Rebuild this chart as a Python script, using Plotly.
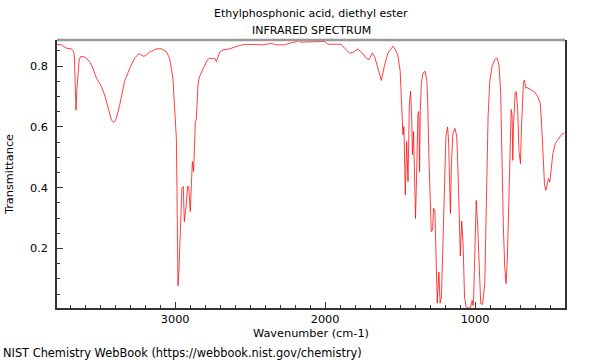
import plotly.graph_objects as go

# IR spectrum of ethylphosphonic acid, diethyl ester
wavenumber = [
    3788, 3759, 3725, 3692, 3677, 3672, 3665, 3661, 3656, 3648, 3640, 3630,
    3603, 3570, 3548, 3525, 3497, 3470, 3448, 3425, 3412, 3400, 3392, 3370,
    3337, 3303, 3270, 3243, 3225, 3208, 3190, 3170, 3125, 3092, 3059, 3037,
    3015, 3003, 2992, 2988, 2985, 2981, 2975, 2966, 2955, 2946, 2939, 2928,
    2917, 2910, 2899, 2892, 2885, 2877, 2870, 2865, 2859, 2848, 2837, 2815,
    2785, 2770, 2748, 2737, 2725, 2703, 2692, 2681, 2637, 2570, 2525, 2470,
    2415, 2359, 2325, 2270, 2225, 2181, 2175, 2165, 2103, 2037, 2003, 1981,
    1937, 1892, 1870, 1837, 1810, 1781, 1752, 1725, 1708, 1685, 1670, 1648,
    1625, 1603, 1581, 1559, 1548, 1537, 1515, 1499, 1492, 1485, 1481, 1474,
    1465, 1456, 1447, 1438, 1430, 1423, 1417, 1410, 1403, 1397, 1390, 1381,
    1375, 1370, 1365, 1359, 1348, 1332, 1321, 1315, 1308, 1301, 1292, 1283,
    1277, 1268, 1259, 1252, 1241, 1233, 1224, 1214, 1203, 1194, 1183, 1176,
    1170, 1164, 1158, 1148, 1134, 1122, 1114, 1106, 1098, 1089, 1080, 1070,
    1059, 1045, 1030, 1024, 1019, 1014, 1010, 1005, 1001, 992, 982, 973,
    962, 950, 940, 935, 924, 913, 902, 887, 869, 858, 851, 840,
    829, 820, 811, 802, 793, 784, 775, 766, 759, 753, 748, 744,
    740, 732, 725, 715, 707, 702, 697, 690, 682, 677, 670, 662,
    655, 648, 625, 603, 581, 565, 555, 545, 537, 528, 519, 510,
    501, 492, 481, 465, 443, 421, 403,
]
transmittance = [
    0.872, 0.870, 0.859, 0.857, 0.848, 0.830, 0.720, 0.655, 0.720, 0.783, 0.820, 0.832,
    0.830, 0.815, 0.793, 0.760, 0.738, 0.705, 0.662, 0.623, 0.615, 0.620, 0.629, 0.672,
    0.750, 0.793, 0.826, 0.841, 0.836, 0.832, 0.838, 0.846, 0.857, 0.857, 0.848, 0.826,
    0.760, 0.672, 0.563, 0.398, 0.233, 0.077, 0.124, 0.288, 0.398, 0.404, 0.288, 0.332,
    0.404, 0.404, 0.321, 0.409, 0.486, 0.453, 0.530, 0.618, 0.623, 0.738, 0.766, 0.788,
    0.821, 0.826, 0.824, 0.826, 0.815, 0.846, 0.850, 0.853, 0.857, 0.868, 0.872, 0.870,
    0.870, 0.875, 0.870, 0.870, 0.877, 0.881, 0.886, 0.879, 0.879, 0.880, 0.881, 0.872,
    0.872, 0.872, 0.859, 0.843, 0.846, 0.857, 0.843, 0.826, 0.821, 0.843, 0.832, 0.793,
    0.753, 0.804, 0.843, 0.857, 0.866, 0.859, 0.837, 0.783, 0.717, 0.607, 0.574, 0.601,
    0.376, 0.552, 0.420, 0.672, 0.717, 0.640, 0.508, 0.585, 0.464, 0.299, 0.431, 0.640,
    0.651, 0.453, 0.651, 0.738, 0.777, 0.783, 0.750, 0.672, 0.508, 0.365, 0.255, 0.261,
    0.332, 0.327, 0.172, 0.020, 0.122, 0.020, 0.040, 0.215, 0.450, 0.570, 0.600, 0.550,
    0.420, 0.315, 0.470, 0.578, 0.595, 0.570, 0.460, 0.300, 0.175, 0.290, 0.220, 0.040,
    0.007, 0.004, 0.005, 0.020, 0.029, 0.012, 0.018, 0.120, 0.227, 0.358, 0.271, 0.150,
    0.018, 0.016, 0.073, 0.084, 0.358, 0.633, 0.748, 0.798, 0.820, 0.826, 0.825, 0.803,
    0.710, 0.468, 0.271, 0.139, 0.084, 0.172, 0.358, 0.578, 0.657, 0.640, 0.490, 0.600,
    0.633, 0.715, 0.715, 0.650, 0.520, 0.479, 0.479, 0.600, 0.720, 0.748, 0.754, 0.727,
    0.730, 0.728, 0.722, 0.715, 0.699, 0.677, 0.600, 0.490, 0.413, 0.391, 0.413, 0.430,
    0.419, 0.457, 0.512, 0.545, 0.562, 0.576, 0.580,
]

title_line1 = "Ethylphosphonic acid, diethyl ester"
title_line2 = "INFRARED SPECTRUM"
x_title = "Wavenumber (cm-1)"
y_title = "Transmittance"
footer = "NIST Chemistry WebBook (https://webbook.nist.gov/chemistry)"
x_ticks = [3000, 2000, 1000]
y_ticks = [0.2, 0.4, 0.6, 0.8]

FONT = "DejaVu Sans"
FS = 11

fig = go.Figure()
fig.add_trace(go.Scatter(
    x=wavenumber, y=transmittance, mode="lines",
    line=dict(color="rgba(255,0,0,0.75)", width=1),
    hoverinfo="skip", showlegend=False,
))

fig.update_layout(
    width=600, height=360,
    margin=dict(l=57, r=35, t=40, b=52, autoexpand=False),
    paper_bgcolor="white", plot_bgcolor="white",
    font=dict(family=FONT, size=FS, color="black"),
    showlegend=False,
    xaxis=dict(
        range=[3788, 400], showgrid=False, zeroline=False, automargin=False,
        tickvals=x_ticks, ticktext=[str(v) for v in x_ticks],
        ticks="inside", ticklen=6, tickcolor="#333", tickwidth=1,
        minor=dict(dtick=100, tick0=0, ticks="inside", ticklen=3, tickcolor="#333", showgrid=False),
        showline=True, linecolor="#333", linewidth=1.5, mirror=False,
        title=dict(text=x_title, font=dict(size=11.3), standoff=4),
        tickfont=dict(size=11.3),
    ),
    yaxis=dict(
        range=[0.004, 0.886], showgrid=False, zeroline=False, automargin=False,
        tickvals=y_ticks, ticktext=[f"{v:.1f}" for v in y_ticks],
        ticks="inside", ticklen=6, tickcolor="#333", tickwidth=1,
        minor=dict(dtick=0.05, tick0=0, ticks="inside", ticklen=3, tickcolor="#333", showgrid=False),
        showline=True, linecolor="#333", linewidth=1.5, mirror=True,
        title=dict(text=y_title, font=dict(size=11.3), standoff=14),
        tickfont=dict(size=11.3), ticklabelstandoff=5,
    ),
    shapes=[dict(type="line", xref="paper", yref="paper", x0=0, x1=1, y0=1, y1=1,
                 line=dict(color="#999999", width=2.5))],
    annotations=[
        dict(text=title_line1, xref="paper", yref="paper", x=0.5, y=1.1007,
             xanchor="center", yanchor="middle", showarrow=False, font=dict(size=FS)),
        dict(text=title_line2, xref="paper", yref="paper", x=0.5, y=1.037,
             xanchor="center", yanchor="middle", showarrow=False, font=dict(size=FS)),
        dict(text=footer, xref="paper", yref="paper", x=-0.1102, y=-0.168,
             xanchor="left", yanchor="middle", showarrow=False, font=dict(size=11.4)),
    ],
)

fig.write_html("out.html", config={"displayModeBar": False},
               post_script="document.body.style.margin='0';")
